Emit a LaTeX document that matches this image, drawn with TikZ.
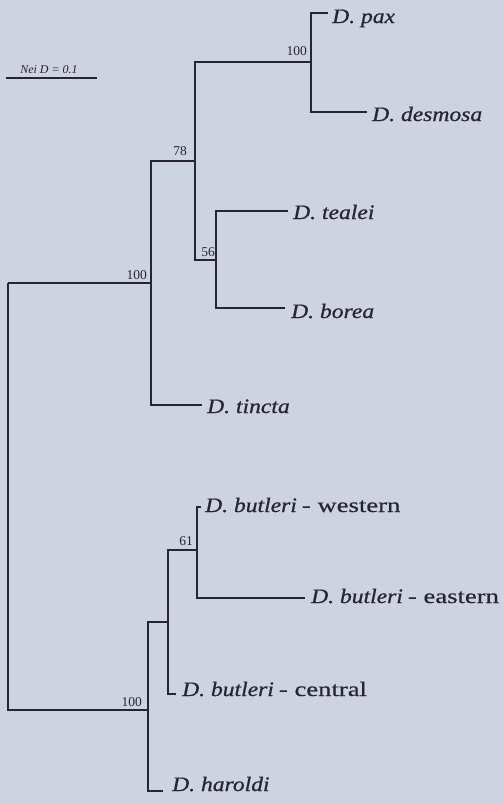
\documentclass[tikz,border=0pt]{standalone}
\usepackage{fontspec}
\setmainfont{Liberation Serif}
\newfontfamily\taxfont{Liberation Serif}[FakeStretch=1.15, FakeBold=0.8]
\newfontfamily\popfont{Liberation Serif}[FakeStretch=1.3, FakeBold=0.5]
\usepackage{tikz}

\definecolor{bgblue}{RGB}{205,211,224}
\definecolor{ink}{RGB}{40,36,52}

\newcommand{\spname}[1]{{\taxfont\itshape D. #1}}
\newcommand{\popname}[1]{{\popfont - #1}}

\tikzset{
  branch/.style={ink, line width=1.6pt},
  taxon/.style={anchor=base west, inner sep=0pt, text=ink, font=\fontsize{20.5}{24}\selectfont},
  boot/.style={anchor=base east, inner sep=0pt, text=ink, font=\fontsize{13.5}{15}\selectfont}
}

\begin{document}
\begin{tikzpicture}[x=1pt,y=-1pt]
            % Background
            \fill[bgblue] (0,0) rectangle (503,804);
            \useasboundingbox (0,0) rectangle (503,804);

            % Scale bar
            \coordinate (sbl) at (6,78);
            \coordinate (sbr) at (97,78);
            \draw[ink, line width=1.2pt] (sbl) -- (sbr);
            \node[anchor=base, inner sep=0pt, text=ink, font=\fontsize{12}{14}\selectfont\itshape] (scale) at (49,73) {Nei D = 0.1};

            % Internal nodes
            \coordinate (nR) at (8,283);
            \coordinate (nA) at (151,283);
            \coordinate (nB) at (195,161);
            \coordinate (nC) at (311,62);
            \coordinate (nD) at (216,260);
            \coordinate (nE) at (148,710);
            \coordinate (nF) at (168,622);
            \coordinate (nG) at (197,550);

            % Branch tips
            \foreach \tip/\x/\y in {pax/328/13,desmosa/367/112,tealei/288/211,borea/285/308,
                                    tincta/202/405,western/201/507,eastern/305/598,
                                    central/176/694,haroldi/163/791} {
                \coordinate (t\tip) at (\x,\y);
            }

            % Taxa
            \node[taxon] (pax) at (332,23) {\spname{pax}};
            \node[taxon] (desmosa) at (372,121) {\spname{desmosa}};
            \node[taxon] (tealei) at (293,219) {\spname{tealei}};
            \node[taxon] (borea) at (291,318) {\spname{borea}};
            \node[taxon] (tincta) at (207,413) {\spname{tincta}};
            \node[taxon] (western) at (205,512) {\spname{butleri} \popname{western}};
            \node[taxon] (eastern) at (311,603) {\spname{butleri} \popname{eastern}};
            \node[taxon] (central) at (182,696) {\spname{butleri} \popname{central}};
            \node[taxon] (haroldi) at (172,791) {\spname{haroldi}};

            % Branches
            \draw[branch] (nR) |- (nA);
            \draw[branch] (nR) |- (nE);
            \draw[branch] (nA) |- (nB);
            \draw[branch] (nA) |- (ttincta);
            \draw[branch] (nB) |- (nC);
            \draw[branch] (nB) |- (nD);
            \draw[branch] (nC) |- (tpax);
            \draw[branch] (nC) |- (tdesmosa);
            \draw[branch] (nD) |- (ttealei);
            \draw[branch] (nD) |- (tborea);
            \draw[branch] (nE) |- (nF);
            \draw[branch] (nE) |- (tharoldi);
            \draw[branch] (nF) |- (nG);
            \draw[branch] (nF) |- (tcentral);
            \draw[branch] (nG) |- (twestern);
            \draw[branch] (nG) |- (teastern);

            % Bootstrap values
            \node[boot] (bC) at (307,55) {100};
            \node[boot] (bB) at (187,155) {78};
            \node[boot] (bD) at (215,256) {56};
            \node[boot] (bA) at (147,279) {100};
            \node[boot] (bG) at (193,545) {61};
            \node[boot] (bE) at (142,706) {100};
        \end{tikzpicture}
\end{document}
